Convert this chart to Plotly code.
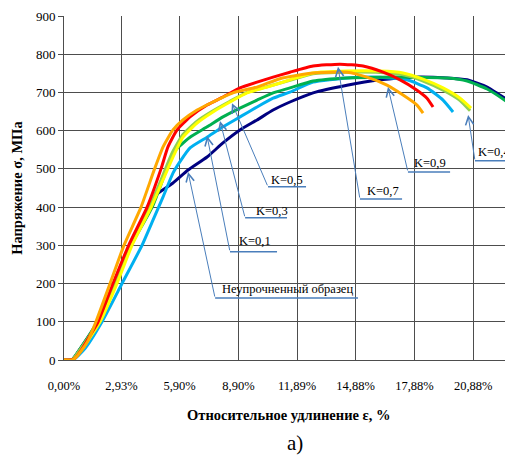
import plotly.graph_objects as go

# ---- data (strain %, stress MPa) ----
unhard_x = [0, 0.4, 0.9, 1.74, 2.6, 3.42, 4.45, 4.64, 5.56, 6.33, 7.30, 8.11, 8.98, 9.85, 10.67, 11.53, 12.71, 14.44, 16.13, 17.81, 19.55, 20.57, 21.59, 22.40, 22.91]
unhard_y = [0, 0, 35, 100, 200, 300, 405, 430, 463, 497, 531, 568, 602, 628, 654, 675, 699, 719, 733, 740, 738, 733, 714, 688, 675]

k01_x = [0, 0.46, 1.07, 1.94, 2.96, 3.98, 4.54, 5.05, 5.56, 5.97, 6.43, 7.30, 8.11, 8.98, 9.85, 10.67, 11.53, 12.71, 14.44, 16.13, 17.50, 18.52, 19.34, 19.85]
k01_y = [0, 0, 30, 100, 200, 300, 366, 426, 489, 523, 555, 583, 610, 636, 662, 685, 701, 727, 738, 740, 733, 712, 680, 649]

k03_x = [0, 0.4, 0.9, 1.7, 2.55, 3.42, 4.5, 5.1, 5.56, 5.97, 6.43, 7.30, 8.11, 8.98, 9.85, 10.67, 11.53, 12.71, 14.44, 16.13, 17.81, 19.55, 20.57, 21.59, 22.40, 22.91]
k03_y = [0, 0, 35, 100, 200, 300, 400, 480, 542, 563, 583, 610, 636, 659, 680, 699, 712, 730, 738, 740, 740, 738, 730, 709, 683, 664]

k04_x = [0, 0.4, 0.9, 1.74, 2.6, 3.4, 4.35, 4.95, 5.5, 6.07, 6.79, 7.6, 8.47, 9.34, 10.36, 11.53, 12.71, 14.44, 16.13, 17.30, 18.32, 19.34, 20.21, 20.72]
k04_y = [0, 0, 33, 100, 200, 300, 400, 471, 540, 590, 625, 652, 677, 700, 715, 732, 749, 753, 752, 746, 730, 706, 679, 652]

k05_x = [0, 0.46, 0.95, 1.84, 2.70, 3.47, 4.45, 5.05, 5.56, 6.07, 6.79, 7.60, 8.47, 9.34, 10.36, 11.53, 12.71, 14.44, 16.13, 17.30, 18.32, 19.34, 20.21, 20.77]
k05_y = [0, 0, 30, 100, 200, 300, 400, 471, 531, 583, 620, 649, 675, 699, 714, 733, 751, 756, 756, 751, 735, 712, 685, 659]

k07_x = [0, 0.3, 0.56, 0.87, 1.28, 1.74, 2.5, 3.3, 4.24, 4.95, 5.3, 5.77, 6.43, 7.30, 8.11, 8.98, 9.85, 10.67, 11.53, 12.71, 14.08, 15.26, 16.28, 17.15, 18.01, 18.52, 18.83]
k07_y = [0, 0, 5, 25, 60, 100, 200, 300, 400, 500, 557, 602, 636, 667, 688, 712, 727, 740, 753, 769, 774, 769, 753, 733, 706, 685, 662]

k09_x = [0, 0.41, 0.56, 0.82, 1.22, 1.63, 2.35, 3.06, 3.93, 4.6, 5.05, 5.56, 6.07, 6.79, 7.60, 8.62, 9.85, 11.02, 12.71, 14.44, 15.46, 16.48, 17.30, 18.01, 18.32]
k09_y = [0, 0, 5, 20, 50, 100, 200, 300, 400, 497, 557, 602, 628, 654, 675, 699, 714, 736, 751, 753, 740, 719, 693, 667, 646]

series = [
    ("Неупрочненный образец", unhard_x, unhard_y, "#000080"),
    ("K=0,1", k01_x, k01_y, "#00B0F0"),
    ("K=0,3", k03_x, k03_y, "#00B050"),
    ("K=0,4", k04_x, k04_y, "#92D050"),
    ("K=0,5", k05_x, k05_y, "#FFFF00"),
    ("K=0,7", k07_x, k07_y, "#FF0000"),
    ("K=0,9", k09_x, k09_y, "#FFA800"),
]

x_ticks = [0, 2.93, 5.90, 8.90, 11.89, 14.88, 17.88, 20.88]
x_tick_text = ["0,00%", "2,93%", "5,90%", "8,90%", "11,89%", "14,88%", "17,88%", "20,88%"]
y_ticks = [0, 100, 200, 300, 400, 500, 600, 700, 800, 900]

# callouts: label, arrow tip (x, y), elbow (x, y), underline end x, text position (x, y), text anchor
callouts = [
    ("Неупрочненный образец", (6.33, 492), (7.71, 162), 15.0, (11.38, 186), "center"),
    ("K=0,1", (7.30, 586), (8.47, 283), 10.87, (9.75, 311), "center"),
    ("K=0,3", (7.96, 625), (9.24, 372), 11.38, (10.61, 390), "center"),
    ("K=0,5", (8.57, 672), (10.41, 453), 12.35, (11.38, 471), "center"),
    ("K=0,7", (13.98, 767), (15.10, 421), 17.25, (16.28, 442), "center"),
    ("K=0,9", (16.53, 714), (17.55, 492), 19.70, (18.68, 515), "center"),
    ("K=0,4", (20.62, 641), (20.97, 521), 22.91, (22.88, 544), "right"),
]

SERIF = "Liberation Serif"
CALLOUT = "#4A7EBB"

fig = go.Figure()
for name, xs, ys, col in series:
    fig.add_trace(go.Scatter(x=xs, y=ys, mode="lines", name=name,
                             line=dict(color=col, width=3, shape="spline", smoothing=0.5),
                             showlegend=False, hoverinfo="skip"))

annotations = []
shapes = []
for label, tip, elbow, uend, tpos, anc in callouts:
    annotations.append(dict(x=tip[0], y=tip[1], ax=elbow[0], ay=elbow[1], axref="x", ayref="y",
                            xref="x", yref="y", text="", showarrow=True, arrowhead=5,
                            arrowsize=1.6, arrowwidth=1, arrowcolor=CALLOUT, standoff=0, startstandoff=0))
    shapes.append(dict(type="line", xref="x", yref="y", x0=elbow[0], y0=elbow[1], x1=uend, y1=elbow[1],
                       line=dict(color=CALLOUT, width=1.5)))
    annotations.append(dict(x=tpos[0], y=tpos[1], xref="x", yref="y", text=label, showarrow=False,
                            xanchor=anc, font=dict(family=SERIF, size=12.5, color="#000")))

annotations.append(dict(x=0.5, y=-0.16, xref="paper", yref="paper", xanchor="center", yanchor="middle",
                        text="<b>Относительное удлинение ε, %</b>", showarrow=False,
                        font=dict(family=SERIF, size=14.5, color="#000")))
annotations.append(dict(x=-0.105, y=0.5, xref="paper", yref="paper", xanchor="center", yanchor="middle",
                        text="<b>Напряжение σ, МПа</b>", textangle=-90, showarrow=False,
                        font=dict(family=SERIF, size=14.5, color="#000")))
annotations.append(dict(x=0.514, y=-0.241, xref="paper", yref="paper", xanchor="center", yanchor="middle",
                        text="а)", showarrow=False,
                        font=dict(family=SERIF, size=21, color="#000")))

# the page body adds an 8px margin, so the figure is sized/offset to compensate
fig.update_layout(
    width=505, height=453,
    margin=dict(l=56, r=0, t=8, b=101),
    paper_bgcolor="white", plot_bgcolor="white",
    font=dict(family=SERIF),
    annotations=annotations, shapes=shapes,
    xaxis=dict(range=[0, 22.91], tickvals=x_ticks, ticktext=x_tick_text,
               showgrid=True, gridcolor="#4d4d4d", gridwidth=1, zeroline=False,
               showline=True, linecolor="#4d4d4d", linewidth=1,
               ticks="", ticklabelstandoff=14,
               tickfont=dict(family=SERIF, size=12.5, color="#000")),
    yaxis=dict(range=[0, 900], tickvals=y_ticks,
               showgrid=True, gridcolor="#4d4d4d", gridwidth=1, zeroline=False,
               showline=True, linecolor="#4d4d4d", linewidth=1,
               ticks="outside", ticklen=5, tickcolor="#4d4d4d",
               tickfont=dict(family=SERIF, size=13, color="#000")),
)

fig.write_html("out.html")
